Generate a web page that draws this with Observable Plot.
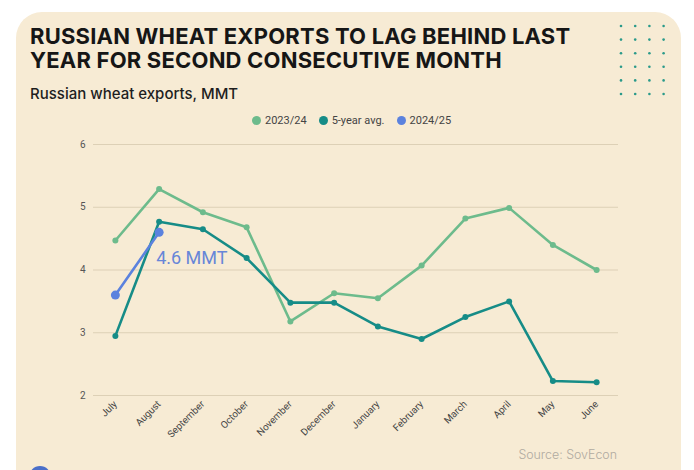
<!DOCTYPE html>
<html>
<head>
<meta charset="utf-8">
<script src="https://cdn.jsdelivr.net/npm/d3@7"></script>
<script src="https://cdn.jsdelivr.net/npm/@observablehq/plot@0.6"></script>
<style>
  html, body { margin: 0; padding: 0; background: #ffffff; }
  body { width: 694px; height: 470px; overflow: hidden; position: relative; font-family: Inter, "Open Sans", sans-serif; }
  #card { position: absolute; left: 16px; top: 12px; width: 665px; height: 500px; background: #f7ebd4; border-radius: 26px; }
  #title { position: absolute; left: 30px; top: 24px; font-family: Inter, sans-serif; font-weight: 700; font-size: 22px; line-height: 24px; color: #161616; letter-spacing: 0.2px; margin: 0; }
  #subtitle { position: absolute; left: 30px; top: 84px; font-family: Inter, sans-serif; font-weight: 500; font-size: 15px; color: #1e1e1e; }
  #legend { position: absolute; left: 252px; top: 114px; font-family: Roboto, sans-serif; font-size: 11px; color: #444; display: flex; gap: 12px; align-items: center; white-space: nowrap; }
  #legend span.item { display: inline-flex; align-items: center; gap: 4px; }
  #legend i { display: inline-block; width: 9px; height: 9px; border-radius: 50%; }
  #chart { position: absolute; left: 16px; top: 130px; }
  #source { position: absolute; right: 77px; top: 447px; font-family: Inter, sans-serif; font-weight: 300; font-size: 12.4px; color: #b0aaa0; }
  #dots { position: absolute; left: 615px; top: 20px; }
  #badge { position: absolute; left: 29px; top: 466px; width: 22px; height: 22px; border-radius: 50%; background: #4a6fc9; }
</style>
</head>
<body>
<div id="card"></div>
<svg id="dots" width="60" height="82"></svg>
<div id="title">RUSSIAN WHEAT EXPORTS TO LAG BEHIND LAST<br>YEAR FOR SECOND CONSECUTIVE MONTH</div>
<div id="subtitle">Russian wheat exports, MMT</div>
<div id="legend"></div>
<div id="chart"></div>
<div id="source">Source: SovEcon</div>
<div id="badge"></div>
<script>
const months = ["July","August","September","October","November","December","January","February","March","April","May","June"];
const seriesNames = ["2023/24", "5-year avg.", "2024/25"];
const seriesColors = ["#6dbb8c", "#168c87", "#5b82de"];
const exports2324 = [4.47, 5.29, 4.92, 4.68, 3.18, 3.63, 3.55, 4.07, 4.82, 4.99, 4.40, 4.00];
const fiveYearAvg = [2.95, 4.77, 4.65, 4.19, 3.48, 3.48, 3.10, 2.90, 3.25, 3.50, 2.23, 2.21];
const exports2425 = [3.60, 4.60];
const yTicks = [2, 3, 4, 5, 6];
const annotationText = "4.6 MMT";

const toRows = (vals, name) => vals.map((v, i) => ({month: months[i], value: v, series: name}));
const d2324 = toRows(exports2324, seriesNames[0]);
const davg = toRows(fiveYearAvg, seriesNames[1]);
const d2425 = toRows(exports2425, seriesNames[2]);

// legend
const legend = document.getElementById("legend");
seriesNames.forEach((n, i) => {
  const s = document.createElement("span");
  s.className = "item";
  s.innerHTML = `<i style="background:${seriesColors[i]}"></i>${n}`;
  legend.appendChild(s);
});

// decorative dots
const dotsSvg = d3.select("#dots");
for (let r = 0; r < 6; r++) for (let c = 0; c < 4; c++) {
  dotsSvg.append("circle").attr("cx", 6 + c * 14.2).attr("cy", 6 + r * 13.6).attr("r", 1.3).attr("fill", "#2a9a8a");
}

const chart = Plot.plot({
  width: 640,
  height: 310,
  marginLeft: 77,
  marginRight: 38,
  marginTop: 14,
  marginBottom: 45,
  style: {background: "transparent", fontFamily: "Roboto, sans-serif", fontSize: "10px", color: "#555"},
  x: {type: "point", domain: months, padding: 0.5, round: false, label: null},
  y: {domain: [2, 6], label: null},
  marks: [
    Plot.gridY(yTicks, {stroke: "#ddd0b6", strokeOpacity: 1, strokeWidth: 1.2}),
    Plot.axisY(yTicks, {tickSize: 0, tickPadding: 8, label: null, fill: "#555", tickFormat: d3.format("d")}),
    Plot.axisX({tickSize: 0, tickRotate: -45, tickPadding: 7, label: null, fill: "#444", fontSize: 9.8}),
    Plot.line(d2324, {x: "month", y: "value", stroke: seriesColors[0], strokeWidth: 2.6}),
    Plot.dot(d2324, {x: "month", y: "value", fill: seriesColors[0], r: 3}),
    Plot.line(davg, {x: "month", y: "value", stroke: seriesColors[1], strokeWidth: 2.6}),
    Plot.dot(davg, {x: "month", y: "value", fill: seriesColors[1], r: 3}),
    Plot.line(d2425, {x: "month", y: "value", stroke: seriesColors[2], strokeWidth: 2.6}),
    Plot.dot(d2425, {x: "month", y: "value", fill: seriesColors[2], r: 4.5}),
    Plot.text([d2425[1]], {x: "month", y: "value", text: () => annotationText, textAnchor: "start", dx: -3, dy: 26, fill: "#6786d8", fontSize: 18, fontFamily: "Roboto, sans-serif"})
  ]
});
document.getElementById("chart").appendChild(chart);
</script>
</body>
</html>
